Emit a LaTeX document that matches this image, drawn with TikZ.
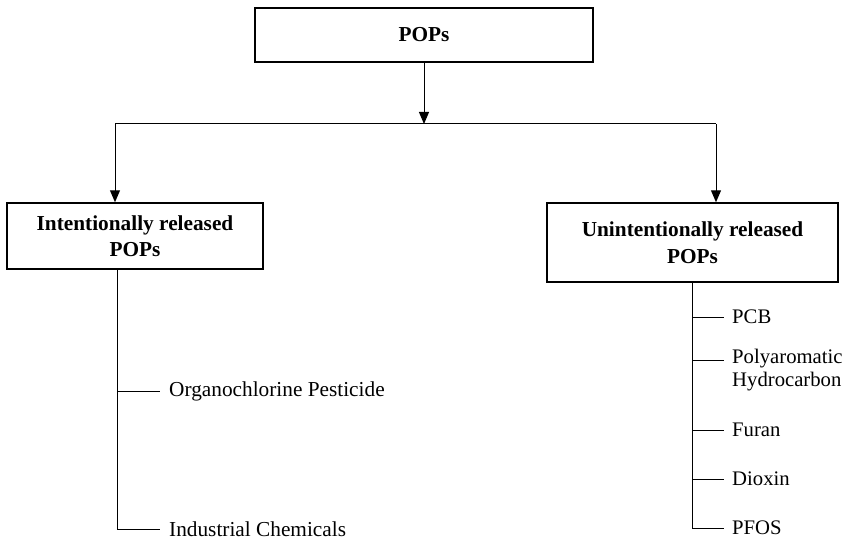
\documentclass[tikz,border=0pt]{standalone}
\usepackage{fontspec}
\setmainfont{Liberation Serif}
\usetikzlibrary{arrows.meta}
\begin{document}
\begin{tikzpicture}[x=1pt,y=-1pt,
  catbox/.style={draw, line width=1.5pt, minimum width=#1, inner sep=0pt,
    align=center, font=\fontsize{21.3}{26.5}\selectfont\bfseries},
  link/.style={line width=1pt},
  arr/.style={link, -{Triangle[width=10pt,length=12pt]}},
  item/.style={anchor=west, inner xsep=9pt, inner ysep=0pt,
    font=\fontsize{21.3}{23}\selectfont, align=left},
  ritem/.style={item, inner xsep=8pt, font=\fontsize{20.7}{23}\selectfont}]
\useasboundingbox (0,0) rectangle (845,540);

% category boxes
\node[catbox=338pt, minimum height=54pt] (pops) at (424,35) {POPs};
\node[catbox=256pt, minimum height=66pt] (intl) at (135,236)
  {Intentionally released\\POPs};
\node[catbox=291pt, minimum height=79pt] (unintl) at (692.5,242.5)
  {Unintentionally released\\POPs};

% split line under the top box
\coordinate (split) at (424,124);
\coordinate (splitL) at (115,124);
\coordinate (splitR) at (716,124);
\draw[arr] (pops.south) -- (split);
\draw[link] (splitL) -- (splitR);
\draw[arr] (splitL) -- (splitL |- intl.north);
\draw[arr] (splitR) -- (splitR |- unintl.north);

% intentionally released members
\coordinate (ltop) at (117,269);
\node[item] (ocp) at (160,391) {Organochlorine Pesticide};
\node[item] (ind) at (160,529) {Industrial Chemicals};
\draw[link] (ltop) |- (ind.west);
\draw[link] (ltop |- ocp.west) -- (ocp.west);

% unintentionally released members
\coordinate (rtop) at (692,282);
\node[ritem] (pcb) at (724,317) {PCB};
\coordinate (polyrow) at (724,360);
\node[ritem, anchor=north west] (poly) at ([yshift=11.5pt]polyrow)
  {Polyaromatic\\Hydrocarbon};
\node[ritem] (furan) at (724,430) {Furan};
\node[ritem] (dioxin) at (724,479) {Dioxin};
\node[ritem] (pfos) at (724,528) {PFOS};
\draw[link] (rtop) |- (pfos.west);
\draw[link] (rtop |- pcb.west) -- (pcb.west);
\draw[link] (rtop |- polyrow) -- (polyrow);
\draw[link] (rtop |- furan.west) -- (furan.west);
\draw[link] (rtop |- dioxin.west) -- (dioxin.west);
\end{tikzpicture}
\end{document}
